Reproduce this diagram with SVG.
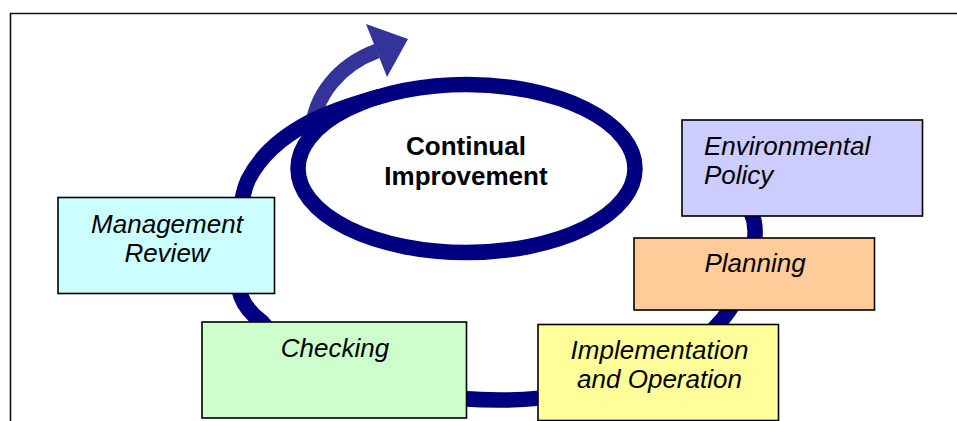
<svg xmlns="http://www.w3.org/2000/svg" width="957" height="421" viewBox="0 0 957 421">
<style>
.box{stroke:#000;stroke-width:1.6}
.lbl{font-family:"Liberation Sans",Arial,sans-serif;font-style:italic;font-size:26px;fill:#000}
.mid{text-anchor:middle}
.ring{fill:none;stroke:#000080;stroke-width:15.5}
</style>
<rect width="957" height="421" fill="#fff"/>
<g id="frame">
<path d="M10.5 421 V13.5 H957" fill="none" stroke="#111" stroke-width="1.6"/>
</g>
<g id="connectors">
<path id="improve-arrow" d="M312 132 C314 96 339 65 377 51" fill="none" stroke="#333399" stroke-width="15"/>
<polygon points="366,24 408,39 387,77" fill="#333399"/>
<path id="cycle" class="ring" d="M738 190 C748 202 756 218 755 235 C754 265 742 295 722 320 C680 370 590 400 500 400 C400 400 300 370 262 322 C240 306 236 290 237 258 C238 226 240 198 248 180 C262 152 285 135 310 122 C332 110 360 102 380 96.4"/>
</g>
<g id="continual">
<ellipse class="ring" cx="466.5" cy="168.5" rx="168.5" ry="84"/>
<text class="mid" x="466" y="155" font-family="Liberation Sans,Arial,sans-serif" font-weight="bold" font-size="26">Continual</text>
<text class="mid" x="466" y="185" font-family="Liberation Sans,Arial,sans-serif" font-weight="bold" font-size="26">Improvement</text>
</g>
<g id="env">
<rect class="box" x="682" y="120" width="240.5" height="96" fill="#CCCCFF"/>
<text class="lbl" x="704" y="155">Environmental</text>
<text class="lbl" x="704" y="184.3">Policy</text>
</g>
<g id="planning">
<rect class="box" x="634" y="238" width="240.5" height="72" fill="#FFCC99"/>
<text class="lbl mid" x="755" y="272.3">Planning</text>
</g>
<g id="impl">
<rect class="box" x="538" y="324.5" width="240.5" height="96" fill="#FFFF99"/>
<text class="lbl mid" x="659.5" y="359.3">Implementation</text>
<text class="lbl mid" x="659.5" y="388.3">and Operation</text>
</g>
<g id="checking">
<rect class="box" x="202" y="322" width="264.5" height="96" fill="#CCFFCC"/>
<text class="lbl mid" x="335" y="356.7">Checking</text>
</g>
<g id="review">
<rect class="box" x="58" y="197.5" width="216.5" height="96" fill="#CCFFFF"/>
<text class="lbl mid" x="167" y="232.7">Management</text>
<text class="lbl mid" x="167" y="261.7">Review</text>
</g>
</svg>
